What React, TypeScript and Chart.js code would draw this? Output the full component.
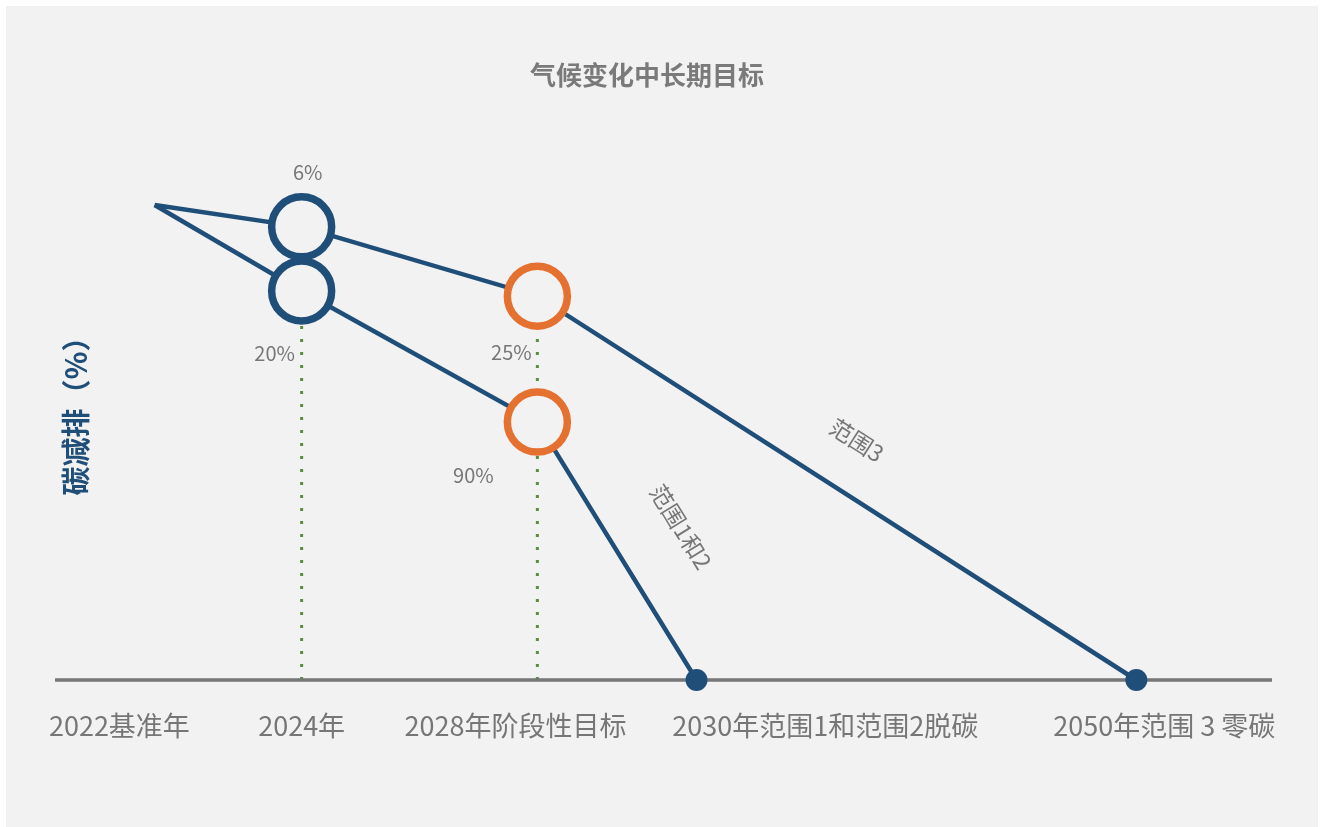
import React, { useEffect, useRef } from "react";
import { Chart, registerables } from "chart.js";

Chart.register(...registerables);

// ---- data ----
const chartTitle = "气候变化中长期目标";
const yAxisTitle = "碳减排（%）";
const categories = ["2022基准年", "2024年", "2028年阶段性目标", "2030年范围1和范围2脱碳", "2050年范围 3 零碳"];
// position of each milestone on the (non-uniform) timeline axis, 0..100
const categoryPositions = [8.2, 20.3, 39.7, 52.8, 89.0];
// where each milestone's caption is centred on the timeline axis
const categoryLabelPositions = [5.3, 20.3, 37.9, 63.4, 91.3];

const scope3Name = "范围3";
const scope3Categories = [0, 1, 2, 4];
const scope3Values = [0, 4.6, 19.2, 100];
const scope3Labels = ["", "6%", "25%", ""];

const scope12Name = "范围1和2";
const scope12Categories = [0, 1, 2, 3];
const scope12Values = [0, 18.1, 45.7, 100];
const scope12Labels = ["", "20%", "90%", ""];

// milestones that get a dotted guide line
const guideCategories = [1, 2];

// ---- styles ----
const FONT = '"Noto Sans CJK SC", "Noto Sans", sans-serif';
const BG = "#f2f2f2";
const BLUE = "#1f4e79";
const ORANGE = "#e47130";
const GREEN = "#5b8c3e";
const TEXT = "#767676";
const AXIS = "#767676";
const milestoneColors = [BLUE, BLUE, ORANGE, BLUE, BLUE];

// pixel offsets of the percentage captions relative to their point
const scope3LabelOffsets = [null, [6, -54], [-26, 56], null];
const scope12LabelOffsets = [null, [-27, 62], [-64, 53], null];
// offsets (along, perpendicular) of the series names from the last segment's midpoint
const seriesNameOffsets = [
  [-9, 51],
  [13, 67],
];

export default function App() {
  const canvasRef = useRef<HTMLCanvasElement | null>(null);

  useEffect(() => {
    const canvas = canvasRef.current;
    if (!canvas) return;

    const mk = (cats: number[], vals: number[]) =>
      cats.map((c, i) => ({ x: categoryPositions[c], y: vals[i] }));

    const ptRadius = (n: number) => (ctx: any) =>
      ctx.dataIndex === 0 ? 0 : ctx.dataIndex === n - 1 ? 11 : 30;
    const ptBg = (n: number) => (ctx: any) => (ctx.dataIndex === n - 1 ? BLUE : BG);
    const ptBorderW = (n: number) => (ctx: any) =>
      ctx.dataIndex === 0 || ctx.dataIndex === n - 1 ? 0 : 7.5;
    const ptBorderC = (cats: number[]) => (ctx: any) => milestoneColors[cats[ctx.dataIndex]];

    const decorations = {
      id: "decorations",
      beforeDatasetsDraw(chart: any) {
        const { ctx, chartArea, scales } = chart;
        const xs = scales.x;
        const ys = scales.y;
        const axisY = ys.getPixelForValue(100);
        ctx.save();
        // dotted guides
        ctx.strokeStyle = GREEN;
        ctx.lineWidth = 3;
        ctx.setLineDash([3, 10]);
        guideCategories.forEach((c) => {
          const px = xs.getPixelForValue(categoryPositions[c]);
          const vals: number[] = [];
          scope3Categories.forEach((k, i) => k === c && vals.push(scope3Values[i]));
          scope12Categories.forEach((k, i) => k === c && vals.push(scope12Values[i]));
          const top = ys.getPixelForValue(Math.min(...vals));
          ctx.beginPath();
          ctx.moveTo(px, axisY);
          ctx.lineTo(px, top);
          ctx.stroke();
        });
        ctx.setLineDash([]);
        // baseline axis
        ctx.strokeStyle = AXIS;
        ctx.lineWidth = 3.5;
        ctx.beginPath();
        ctx.moveTo(chartArea.left, axisY);
        ctx.lineTo(chartArea.right + 2, axisY);
        ctx.stroke();
        ctx.restore();
      },
      afterDatasetsDraw(chart: any) {
        const { ctx, scales } = chart;
        const xs = scales.x;
        const ys = scales.y;
        ctx.save();
        ctx.fillStyle = TEXT;
        ctx.textAlign = "center";
        ctx.textBaseline = "middle";

        // title
        ctx.font = `bold 26px ${FONT}`;
        ctx.fillStyle = "#7a7a7a";
        ctx.fillText(chartTitle, 641, 69);

        // y title
        ctx.save();
        ctx.translate(70, 403);
        ctx.rotate(-Math.PI / 2);
        ctx.font = `bold 29px ${FONT}`;
        ctx.fillStyle = BLUE;
        ctx.fillText(yAxisTitle, 0, 0);
        ctx.restore();

        // category captions
        ctx.fillStyle = TEXT;
        ctx.font = `27px ${FONT}`;
        const axisY = ys.getPixelForValue(100);
        categories.forEach((lab, i) => {
          ctx.fillText(lab, xs.getPixelForValue(categoryLabelPositions[i]), axisY + 46);
        });

        // percentage captions
        ctx.font = `20px ${FONT}`;
        const drawPct = (cats: number[], vals: number[], labels: string[], offs: any[]) => {
          labels.forEach((l, i) => {
            if (!l || !offs[i]) return;
            const px = xs.getPixelForValue(categoryPositions[cats[i]]);
            const py = ys.getPixelForValue(vals[i]);
            ctx.fillText(l, px + offs[i][0], py + offs[i][1]);
          });
        };
        drawPct(scope3Categories, scope3Values, scope3Labels, scope3LabelOffsets);
        drawPct(scope12Categories, scope12Values, scope12Labels, scope12LabelOffsets);

        // series names along the last segment
        ctx.font = `23px ${FONT}`;
        const drawName = (name: string, cats: number[], vals: number[], off: number[]) => {
          const n = cats.length;
          const x1 = xs.getPixelForValue(categoryPositions[cats[n - 2]]);
          const y1 = ys.getPixelForValue(vals[n - 2]);
          const x2 = xs.getPixelForValue(categoryPositions[cats[n - 1]]);
          const y2 = ys.getPixelForValue(vals[n - 1]);
          const dx = x2 - x1;
          const dy = y2 - y1;
          const len = Math.hypot(dx, dy);
          const ux = dx / len;
          const uy = dy / len;
          const nx = uy;
          const ny = -ux;
          const cx = (x1 + x2) / 2 + ux * off[0] + nx * off[1];
          const cy = (y1 + y2) / 2 + uy * off[0] + ny * off[1];
          ctx.save();
          ctx.translate(cx, cy);
          ctx.rotate(Math.atan2(dy, dx));
          ctx.fillText(name, 0, 0);
          ctx.restore();
        };
        drawName(scope3Name, scope3Categories, scope3Values, seriesNameOffsets[0]);
        drawName(scope12Name, scope12Categories, scope12Values, seriesNameOffsets[1]);
        ctx.restore();
      },
    };

    const chart = new Chart(canvas, {
      type: "scatter",
      data: {
        datasets: [
          {
            label: scope3Name,
            data: mk(scope3Categories, scope3Values),
            showLine: true,
            borderColor: BLUE,
            borderWidth: 4.5,
            pointRadius: ptRadius(scope3Values.length),
            pointHoverRadius: ptRadius(scope3Values.length),
            pointBackgroundColor: ptBg(scope3Values.length),
            pointBorderColor: ptBorderC(scope3Categories),
            pointBorderWidth: ptBorderW(scope3Values.length),
            clip: false,
          } as any,
          {
            label: scope12Name,
            data: mk(scope12Categories, scope12Values),
            showLine: true,
            borderColor: BLUE,
            borderWidth: 4.5,
            pointRadius: ptRadius(scope12Values.length),
            pointHoverRadius: ptRadius(scope12Values.length),
            pointBackgroundColor: ptBg(scope12Values.length),
            pointBorderColor: ptBorderC(scope12Categories),
            pointBorderWidth: ptBorderW(scope12Values.length),
            clip: false,
          } as any,
        ],
      },
      options: {
        animation: false,
        responsive: false,
        layout: { padding: { left: 49, right: 48, top: 199, bottom: 147 } },
        plugins: { legend: { display: false }, title: { display: false }, tooltip: { enabled: false } },
        scales: {
          x: { type: "linear", min: 0, max: 100, display: false },
          y: { type: "linear", min: 0, max: 100, reverse: true, display: false },
        },
        events: [],
      },
      plugins: [decorations],
    });
    return () => chart.destroy();
  }, []);

  return (
    <div
      style={{
        position: "absolute",
        left: 6,
        top: 6,
        width: 1312,
        height: 821,
        background: BG,
      }}
    >
      <canvas ref={canvasRef} width={1312} height={821} style={{ display: "block" }} />
    </div>
  );
}
